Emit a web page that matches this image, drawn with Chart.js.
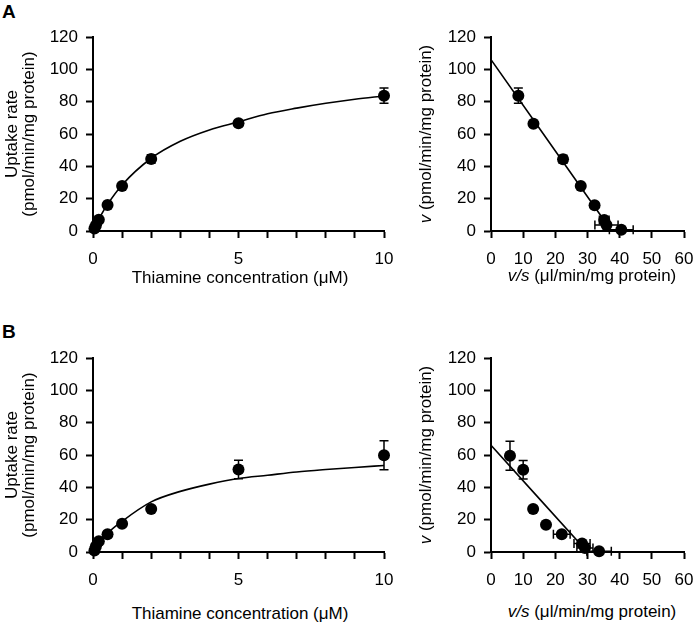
<!DOCTYPE html>
<html>
<head>
<meta charset="utf-8">
<script src="https://cdn.jsdelivr.net/npm/chart.js@4.4.0/dist/chart.umd.min.js"></script>
<style>
body { margin:0; background:#fff; width:693px; height:624px; position:relative; overflow:hidden; font-family:"Liberation Sans", Arial, sans-serif; color:#000; }
.c { position:absolute; }
.t { position:absolute; font-size:17px; line-height:17px; white-space:nowrap; }
.rot { transform: translate(-50%,-50%) rotate(-90deg); text-align:center; }
.hz { transform: translate(-50%,-50%); }
.lt { position:absolute; font-weight:bold; font-size:19px; }
</style>
</head>
<body>
<div class="lt" style="left:2px;top:1px;">A</div>
<div class="lt" style="left:2px;top:321px;">B</div>

<div class="c" style="left:0;top:0;"><canvas id="aLeft" width="400" height="280"></canvas></div>
<div class="c" style="left:430px;top:0;"><canvas id="aRight" width="263" height="280"></canvas></div>
<div class="c" style="left:0;top:321px;"><canvas id="bLeft" width="400" height="280"></canvas></div>
<div class="c" style="left:430px;top:321px;"><canvas id="bRight" width="263" height="280"></canvas></div>

<div class="t rot" style="left:20px;top:134px;">Uptake rate<br>(pmol/min/mg protein)</div>
<div class="t rot" style="left:425px;top:134px;"><i>v</i> (pmol/min/mg protein)</div>
<div class="t hz" style="left:240px;top:277px;">Thiamine concentration (&mu;M)</div>
<div class="t hz" style="left:592px;top:275px;"><i>v/s</i> (&mu;l/min/mg protein)</div>

<div class="t rot" style="left:20px;top:455px;">Uptake rate<br>(pmol/min/mg protein)</div>
<div class="t rot" style="left:425px;top:455px;"><i>v</i> (pmol/min/mg protein)</div>
<div class="t hz" style="left:240px;top:613px;">Thiamine concentration (&mu;M)</div>
<div class="t hz" style="left:592px;top:611px;"><i>v/s</i> (&mu;l/min/mg protein)</div>

<script>
// thiamine concentrations (uM)
var conc = [0.05, 0.1, 0.2, 0.5, 1, 2, 5, 10];
var uptakeA = [1.5, 3.6, 7.0, 16.1, 27.9, 44.6, 66.7, 83.7];
var uptakeA_err = [0.5, 0.5, 0.8, 0.8, 1.0, 2.5, 1.5, 4.7];
var uptakeB = [1.0, 3.5, 6.6, 11.0, 17.5, 26.6, 51.0, 59.8];
var uptakeB_err = [0.5, 0.5, 0.8, 1.0, 1.0, 1.5, 5.7, 9.0];

// fitted curves
var fitConc = [0, 0.25, 0.5, 1, 2, 3, 4, 5, 6, 7, 8, 9, 10];
var fitA = [0, 9, 16.5, 28.5, 45, 55.5, 62.5, 67.5, 72.5, 76, 79, 81.5, 83.5];
var fitB = [0, 6, 11.5, 19, 31, 37.5, 42, 45.5, 47.5, 49.5, 51, 52.3, 53.5];

// Eadie-Hofstee plots
var ehA_vs = [40.5, 35.9, 35.2, 32.2, 27.9, 22.4, 13.2, 8.5];
var ehA_v = [0.8, 3.7, 6.8, 15.9, 27.9, 44.4, 66.3, 83.7];
var ehA_vsErr = [3.7, 3.6, 1.5, 0.5, 0.5, 0.8, 0.5, 0.5];
var ehA_vErr = [0.5, 0.5, 0.8, 0.8, 1.0, 2.5, 1.5, 4.7];
var ehA_lineX = [0, 37.5];
var ehA_lineY = [106, 0];

var ehB_vs = [33.6, 29.2, 28.3, 22.0, 17.1, 13.1, 10.0, 5.9];
var ehB_v = [0.5, 2.5, 5.3, 11.0, 16.9, 26.6, 50.9, 59.5];
var ehB_vsErr = [3.8, 2.5, 2.5, 2.6, 0.5, 0.5, 0.8, 0.5];
var ehB_vErr = [0.5, 0.5, 0.8, 1.0, 1.0, 1.5, 5.7, 9.0];
var ehB_lineX = [0, 30];
var ehB_lineY = [66, 0];

var yTicks = [0, 120, 20];
var concTicks = [0, 10, 1];
var vsTicks = [0, 60, 10];

Chart.defaults.font.family = '"Liberation Sans", Arial, sans-serif';
Chart.defaults.font.size = 17;
Chart.defaults.color = '#000';

function pts(xs, ys) {
    return xs.map(function(x, i) { return { x: x, y: ys[i] }; });
}

// draws error bars from dataset.xErr / dataset.yErr
var errorBars = {
    id: 'errorBars',
    afterDatasetsDraw: function(chart) {
        var ctx = chart.ctx;
        var xs = chart.scales.x, ys = chart.scales.y;
        ctx.save();
        ctx.strokeStyle = '#000';
        ctx.lineWidth = 1.5;
        chart.data.datasets.forEach(function(ds) {
            if (!ds.xErr && !ds.yErr) return;
            ds.data.forEach(function(p, i) {
                var px = xs.getPixelForValue(p.x), py = ys.getPixelForValue(p.y);
                ctx.beginPath();
                if (ds.yErr && ds.yErr[i]) {
                    var t = ys.getPixelForValue(p.y + ds.yErr[i]);
                    var b = ys.getPixelForValue(Math.max(0, p.y - ds.yErr[i]));
                    ctx.moveTo(px, t); ctx.lineTo(px, b);
                    ctx.moveTo(px - 4.5, t); ctx.lineTo(px + 4.5, t);
                    ctx.moveTo(px - 4.5, b); ctx.lineTo(px + 4.5, b);
                }
                if (ds.xErr && ds.xErr[i]) {
                    var l = xs.getPixelForValue(p.x - ds.xErr[i]);
                    var r = xs.getPixelForValue(p.x + ds.xErr[i]);
                    ctx.moveTo(l, py); ctx.lineTo(r, py);
                    ctx.moveTo(l, py - 4.5); ctx.lineTo(l, py + 4.5);
                    ctx.moveTo(r, py - 4.5); ctx.lineTo(r, py + 4.5);
                }
                ctx.stroke();
            });
        });
        ctx.restore();
    }
};

function axis(t, cb, size, horiz) {
    return {
        type: 'linear',
        min: t[0], max: t[1],
        ticks: { stepSize: t[2], padding: horiz ? 11 : 8, callback: cb, font: { size: 17 } },
        grid: { drawOnChartArea: false, drawTicks: true, tickLength: 7, tickWidth: 2, tickColor: '#000' },
        border: { display: true, color: '#000', width: 2 },
        afterFit: function(s) {
            // fixed axis size, and no extra room for the end labels
            if (horiz) s.height = size; else s.width = size;
            s.paddingLeft = 0; s.paddingRight = 0; s.paddingTop = 0; s.paddingBottom = 0;
        }
    };
}

function panel(id, pointData, xErr, yErr, lineData, xTicks, xCb, yWidth, padRight) {
    new Chart(document.getElementById(id).getContext('2d'), {
        type: 'scatter',
        data: {
            datasets: [{
                data: pointData,
                xErr: xErr,
                yErr: yErr,
                pointRadius: 6,
                pointBackgroundColor: '#000',
                pointBorderWidth: 0,
                clip: false
            }, {
                data: lineData,
                showLine: true,
                pointRadius: 0,
                borderColor: '#000',
                borderWidth: 1.6,
                cubicInterpolationMode: 'monotone',
                clip: false
            }]
        },
        options: {
            responsive: false,
            animation: false,
            layout: { padding: { left: 0, top: 37, right: padRight, bottom: 9 } },
            plugins: { legend: { display: false }, tooltip: { enabled: false } },
            scales: {
                x: axis(xTicks, xCb, 40, true),
                y: axis(yTicks, function(v) { return v; }, yWidth, false)
            }
        },
        plugins: [errorBars]
    });
}

var concLabel = function(v) { return v % 5 === 0 ? v : ''; };
var vsLabel = function(v) { return v; };

panel('aLeft', pts(conc, uptakeA), null, uptakeA_err, pts(fitConc, fitA), concTicks, concLabel, 93, 16);
panel('aRight', pts(ehA_vs, ehA_v), ehA_vsErr, ehA_vErr, pts(ehA_lineX, ehA_lineY), vsTicks, vsLabel, 61, 9);
panel('bLeft', pts(conc, uptakeB), null, uptakeB_err, pts(fitConc, fitB), concTicks, concLabel, 93, 16);
panel('bRight', pts(ehB_vs, ehB_v), ehB_vsErr, ehB_vErr, pts(ehB_lineX, ehB_lineY), vsTicks, vsLabel, 61, 9);
</script>
</body>
</html>
